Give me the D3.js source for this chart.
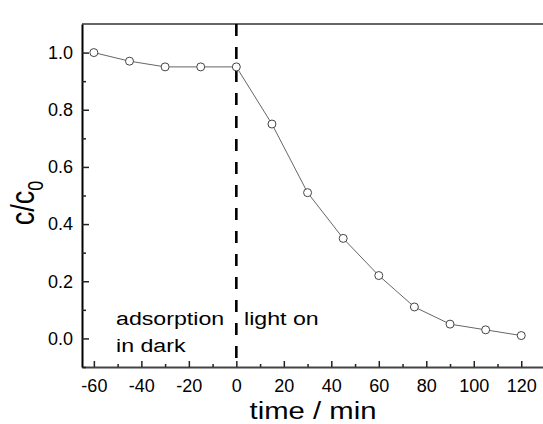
<!DOCTYPE html>
<meta charset="utf-8">
<html>
<head>
    <title>c/c0 vs time</title>
    <style>
        body { margin: 0; background: #fff; }
        text { font-family: "Liberation Sans", Arial, sans-serif; fill: #000; }
    </style>
    <script src="https://d3js.org/d3.v7.min.js"></script>
</head>
<body>
    <div id="chart"></div>
    <script>
        // data
        var times = [-60, -45, -30, -15, 0, 15, 30, 45, 60, 75, 90, 105, 120];
        var ratio = [1.0, 0.97, 0.95, 0.95, 0.95, 0.75, 0.51, 0.35, 0.22, 0.11, 0.05, 0.03, 0.01];
        var xTicks = [-60, -40, -20, 0, 20, 40, 60, 80, 100, 120];
        var yTicks = [0.0, 0.2, 0.4, 0.6, 0.8, 1.0];
        var lightOnAt = 0;

        var width = 543, height = 424;
        var margin = { top: 24, right: -2, bottom: 57, left: 82 };

        var svg = d3.select("#chart").append("svg")
            .attr("width", width)
            .attr("height", height);

        var x = d3.scaleLinear()
            .domain([-65, 130])
            .range([margin.left, width - margin.right]);
        var y = d3.scaleLinear()
            .domain([-0.1, 1.1])
            .range([height - margin.bottom, margin.top]);

        var yBottom = y(-0.1), yTop = y(1.1);

        // top frame line
        svg.append("line")
            .attr("x1", margin.left).attr("x2", width)
            .attr("y1", yTop).attr("y2", yTop)
            .attr("stroke", "#666").attr("stroke-width", 2);

        // x axis, ticks pointing inward
        var xAxis = svg.append("g")
            .attr("transform", "translate(0," + yBottom + ")")
            .call(d3.axisBottom(x).tickValues(xTicks).tickSize(-6).tickSizeOuter(0)
                .tickPadding(12).tickFormat(function (d) { return String(d); }));
        svg.append("g")
            .attr("transform", "translate(0," + yBottom + ")")
            .call(d3.axisBottom(x).tickValues(d3.range(-50, 130, 20)).tickSize(-3)
                .tickSizeOuter(0).tickFormat(""))
            .select(".domain").remove();

        // y axis
        var yAxis = svg.append("g")
            .attr("transform", "translate(" + margin.left + ",0)")
            .call(d3.axisLeft(y).tickValues(yTicks).tickSize(-7).tickSizeOuter(0)
                .tickPadding(9).tickFormat(function (d) { return d.toFixed(1); }));
        svg.append("g")
            .attr("transform", "translate(" + margin.left + ",0)")
            .call(d3.axisLeft(y).tickValues([-0.1, 0.1, 0.3, 0.5, 0.7, 0.9]).tickSize(-4)
                .tickSizeOuter(0).tickFormat(""))
            .select(".domain").remove();

        svg.selectAll(".tick line").attr("stroke", "#222").attr("stroke-width", 1.5);
        xAxis.select(".domain").attr("stroke", "#444").attr("stroke-width", 2);
        yAxis.select(".domain").attr("stroke", "#000").attr("stroke-width", 2);
        svg.selectAll(".tick text")
            .attr("font-size", 18)
            .attr("font-family", "Liberation Sans, Arial, sans-serif")
            .attr("fill", "#111");

        // dashed separator at light on
        svg.append("line")
            .attr("x1", x(lightOnAt)).attr("x2", x(lightOnAt))
            .attr("y1", yTop).attr("y2", yBottom)
            .attr("stroke", "#000").attr("stroke-width", 2.6)
            .attr("stroke-dasharray", "12,11");

        // data line and markers
        var pts = times.map(function (t, i) { return [t, ratio[i]]; });
        svg.append("path")
            .datum(pts)
            .attr("fill", "none")
            .attr("stroke", "#666")
            .attr("stroke-width", 1)
            .attr("d", d3.line()
                .x(function (d) { return x(d[0]); })
                .y(function (d) { return y(d[1]); }));

        svg.selectAll("circle.pt")
            .data(pts)
            .enter().append("circle")
            .attr("class", "pt")
            .attr("cx", function (d) { return x(d[0]); })
            .attr("cy", function (d) { return y(d[1]); })
            .attr("r", 4)
            .attr("fill", "#fff")
            .attr("stroke", "#444")
            .attr("stroke-width", 1);

        // stretched text helper
        function label(txt, tx, ty, size, anchor) {
            return svg.append("text")
                .attr("transform", "translate(" + tx + "," + ty + ") scale(1.22,1)")
                .attr("font-size", size)
                .attr("text-anchor", anchor)
                .text(txt);
        }

        label("adsorption", 116, 325, 19, "start");
        label("in dark", 116, 352, 19, "start");
        label("light on", 244, 325, 19, "start");

        label("time / min", 313, 419, 24, "middle");

        var yl = svg.append("text")
            .attr("transform", "translate(34,203) scale(1.25,1) rotate(-90)")
            .attr("font-size", 27)
            .attr("text-anchor", "middle");
        yl.append("tspan").text("c/c");
        yl.append("tspan").attr("font-size", 18).attr("dy", 7).text("0");
    </script>
</body>
</html>
